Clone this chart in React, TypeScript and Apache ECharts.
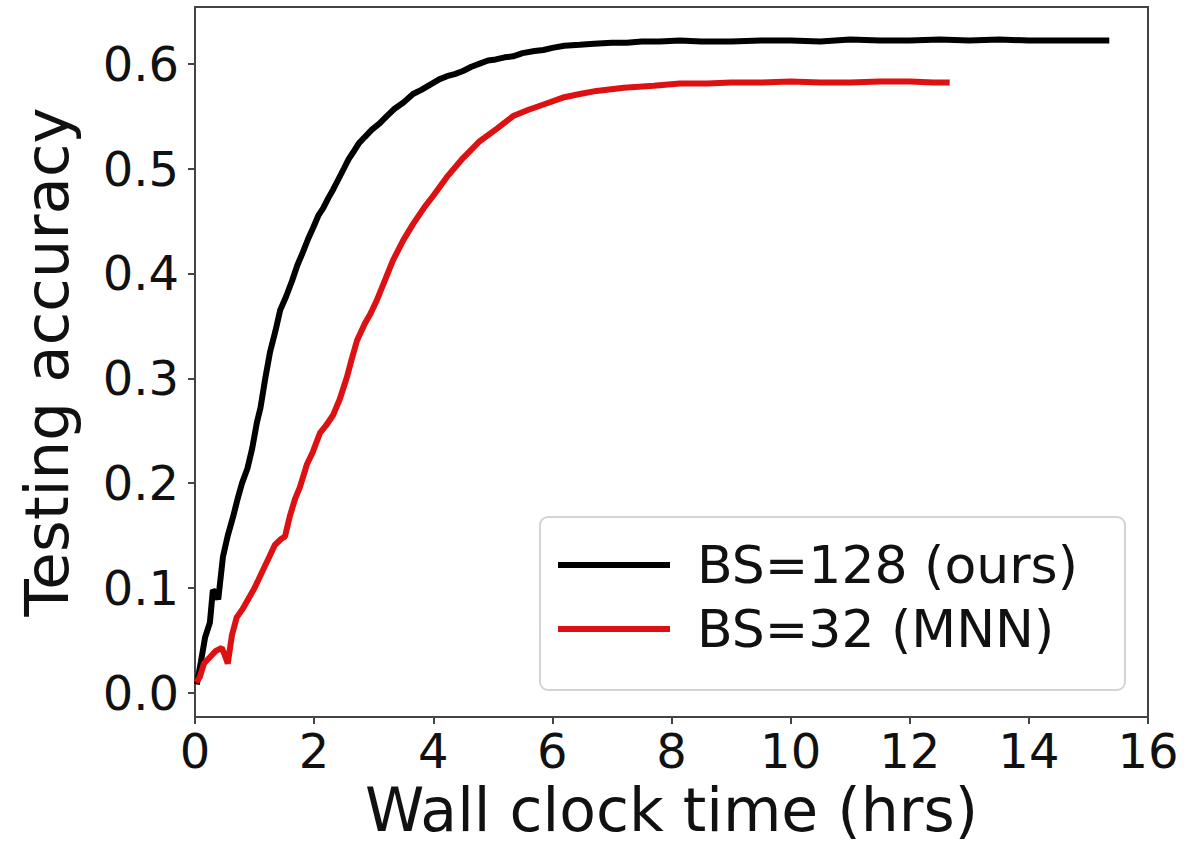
import React, { useEffect, useRef } from "react";
import * as echarts from "echarts";

const seriesNames = ["BS=128 (ours)", "BS=32 (MNN)"];

const oursX = [0.03, 0.1, 0.17, 0.25, 0.3, 0.35, 0.39, 0.47, 0.55, 0.64, 0.72, 0.79, 0.88, 0.96, 1.04, 1.1, 1.18, 1.26, 1.35, 1.43, 1.53, 1.63, 1.72, 1.81, 1.9, 1.98, 2.07, 2.15, 2.24, 2.32, 2.41, 2.5, 2.58, 2.65, 2.75, 2.85, 2.97, 3.1, 3.22, 3.35, 3.5, 3.66, 3.8, 3.95, 4.1, 4.23, 4.36, 4.5, 4.64, 4.78, 4.92, 5.05, 5.2, 5.34, 5.5, 5.7, 5.85, 6.0, 6.2, 6.46, 6.7, 7.0, 7.25, 7.5, 7.8, 8.14, 8.5, 9.0, 9.5, 10.0, 10.5, 11.0, 11.5, 12.0, 12.5, 13.0, 13.5, 14.0, 14.5, 15.0, 15.35];
const oursY = [0.008, 0.03, 0.053, 0.067, 0.098, 0.095, 0.089, 0.13, 0.15, 0.168, 0.186, 0.2, 0.214, 0.233, 0.258, 0.272, 0.3, 0.325, 0.345, 0.365, 0.378, 0.393, 0.408, 0.42, 0.433, 0.443, 0.455, 0.462, 0.472, 0.48, 0.49, 0.5, 0.509, 0.515, 0.524, 0.53, 0.537, 0.543, 0.55, 0.557, 0.563, 0.571, 0.575, 0.58, 0.585, 0.588, 0.59, 0.593, 0.597, 0.6, 0.603, 0.604, 0.606, 0.607, 0.61, 0.612, 0.613, 0.615, 0.617, 0.618, 0.619, 0.62, 0.62, 0.621, 0.621, 0.622, 0.621, 0.621, 0.622, 0.622, 0.621, 0.623, 0.622, 0.622, 0.623, 0.622, 0.623, 0.622, 0.622, 0.622, 0.622];

const mnnX = [0.02, 0.08, 0.15, 0.25, 0.35, 0.45, 0.5, 0.55, 0.62, 0.7, 0.8, 0.89, 1.0, 1.14, 1.25, 1.34, 1.45, 1.51, 1.59, 1.68, 1.76, 1.88, 1.98, 2.1, 2.2, 2.32, 2.43, 2.55, 2.63, 2.72, 2.85, 2.95, 3.05, 3.2, 3.32, 3.5, 3.66, 3.85, 4.0, 4.23, 4.5, 4.78, 5.07, 5.34, 5.6, 5.9, 6.2, 6.46, 6.74, 7.2, 7.7, 8.14, 8.6, 9.0, 9.5, 10.0, 10.5, 11.0, 11.5, 12.0, 12.4, 12.67];
const mnnY = [0.01, 0.015, 0.028, 0.034, 0.04, 0.043, 0.036, 0.028, 0.055, 0.072, 0.08, 0.089, 0.1, 0.117, 0.13, 0.141, 0.147, 0.149, 0.168, 0.185, 0.196, 0.218, 0.23, 0.248, 0.255, 0.265, 0.28, 0.301, 0.318, 0.336, 0.352, 0.362, 0.374, 0.395, 0.412, 0.432, 0.447, 0.463, 0.474, 0.492, 0.51, 0.526, 0.538, 0.55, 0.556, 0.562, 0.568, 0.571, 0.574, 0.577, 0.579, 0.581, 0.581, 0.582, 0.582, 0.583, 0.582, 0.582, 0.583, 0.583, 0.582, 0.582];

const xTicks = [0, 2, 4, 6, 8, 10, 12, 14, 16];
const yTicks = [0.0, 0.1, 0.2, 0.3, 0.4, 0.5, 0.6];

const FONT = "DejaVu Sans";

export default function App() {
  const ref = useRef<HTMLDivElement>(null);
  useEffect(() => {
    document.body.style.margin = "0";
    if (!ref.current) return;
    const chart = echarts.init(ref.current, undefined, { renderer: "svg" });
    const ours = oursX.map((x, i) => [x, oursY[i]]);
    const mnn = mnnX.map((x, i) => [x, mnnY[i]]);
    chart.setOption({
      animation: false,
      backgroundColor: "#ffffff",
      grid: {
        left: 195,
        top: 7,
        right: 39,
        bottom: 136,
        show: true,
        borderColor: "#444",
        borderWidth: 2,
        backgroundColor: "transparent",
      },
      xAxis: {
        type: "value",
        min: xTicks[0],
        max: xTicks[xTicks.length - 1],
        interval: 2,
        name: "Wall clock time (hrs)",
        nameLocation: "middle",
        nameGap: 56,
        nameTextStyle: { fontFamily: FONT, fontSize: 60, color: "#111" },
        axisLine: { show: true, onZero: false, lineStyle: { color: "#444", width: 2 } },
        axisTick: { show: true, length: 7, lineStyle: { color: "#444", width: 2 } },
        axisLabel: { fontFamily: FONT, fontSize: 48, color: "#111", margin: 10 },
        splitLine: { show: false },
      },
      yAxis: {
        type: "value",
        min: -0.023,
        max: 0.654,
        name: "Testing accuracy",
        nameLocation: "middle",
        nameGap: 118,
        nameTextStyle: { fontFamily: FONT, fontSize: 61, color: "#111" },
        axisLine: { show: true, onZero: false, lineStyle: { color: "#444", width: 2 } },
        axisTick: {
          show: true,
          length: 7,
          customValues: yTicks,
          lineStyle: { color: "#444", width: 2 },
        },
        axisLabel: {
          fontFamily: FONT,
          fontSize: 48,
          color: "#111",
          margin: 16,
          customValues: yTicks,
          formatter: (v: number) => v.toFixed(1),
        },
        splitLine: { show: false },
      },
      legend: {
        orient: "vertical",
        left: 540,
        top: 517,
        padding: [22, 20, 20, 18],
        itemGap: 12,
        itemWidth: 112,
        itemHeight: 6,
        icon: "rect",
        data: seriesNames,
        textStyle: {
          fontFamily: FONT,
          fontSize: 52,
          color: "#111",
          padding: [0, 0, 0, 22],
        },
      },
      graphic: [
        {
          type: "rect",
          z: -1,
          shape: { x: 540, y: 517, width: 585, height: 173, r: 8 },
          style: { fill: "#ffffff", stroke: "#d4d4d4", lineWidth: 2 },
        },
      ],
      series: [
        {
          name: seriesNames[0],
          type: "line",
          data: ours,
          showSymbol: false,
          symbol: "none",
          lineStyle: { color: "#000000", width: 6 },
          itemStyle: { color: "#000000" },
        },
        {
          name: seriesNames[1],
          type: "line",
          data: mnn,
          showSymbol: false,
          symbol: "none",
          lineStyle: { color: "#dd1111", width: 6 },
          itemStyle: { color: "#dd1111" },
        },
      ],
    });
    return () => chart.dispose();
  }, []);
  return <div ref={ref} style={{ width: 1187, height: 853 }} />;
}
